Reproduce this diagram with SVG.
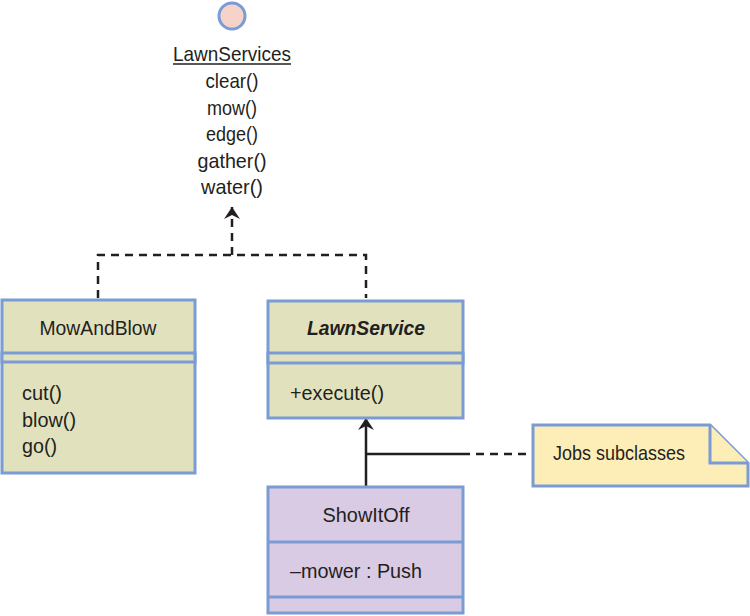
<svg xmlns="http://www.w3.org/2000/svg" width="750" height="616" viewBox="0 0 750 616">
<defs>
<style>
text{font-family:"Liberation Sans",Arial,sans-serif;font-size:21px;fill:#231f20}
.c{text-anchor:middle}
.box{stroke:#7b9bd4;stroke-width:3}
.cls{fill:#e1e2bd}
.pur{fill:#d9cbe3}
.note{fill:#fdedb7}
.ln{stroke:#231f20;stroke-width:2.5;fill:none}
.dash{stroke-dasharray:8,6}
</style>
<marker id="ah" viewBox="0 0 12 16" refX="12" refY="8" markerWidth="12" markerHeight="16" markerUnits="userSpaceOnUse" orient="auto">
<path d="M0,0 L12,8 L0,16 L4,8 Z" fill="#231f20"/>
</marker>
</defs>
<g id="connectors">
<path class="ln dash" d="M98,298 V255 H366 V298"/>
<path class="ln dash" d="M232,255 V207" marker-end="url(#ah)"/>
<path class="ln" d="M366,487 V418" marker-end="url(#ah)"/>
<path class="ln" d="M366,454 H470"/>
<path class="ln dash" d="M476,454 H533"/>
</g>
<g id="LawnServices">
<circle cx="232" cy="16" r="13" fill="#f6d3c9" stroke="#7b9bd4" stroke-width="3"/>
<text class="c" x="232" y="61" textLength="118" lengthAdjust="spacingAndGlyphs">LawnServices</text>
<line x1="173" y1="64" x2="291" y2="64" stroke="#231f20" stroke-width="1.5"/>
<text class="c" x="232" y="88" textLength="53" lengthAdjust="spacingAndGlyphs">clear()</text>
<text class="c" x="232" y="114.5" textLength="50" lengthAdjust="spacingAndGlyphs">mow()</text>
<text class="c" x="232" y="141" textLength="52" lengthAdjust="spacingAndGlyphs">edge()</text>
<text class="c" x="232" y="167.5" textLength="69" lengthAdjust="spacingAndGlyphs">gather()</text>
<text class="c" x="232" y="194" textLength="62" lengthAdjust="spacingAndGlyphs">water()</text>
</g>
<g id="MowAndBlow">
<rect class="box cls" x="2" y="300" width="193" height="173"/>
<rect class="box cls" x="2" y="353" width="193" height="9"/>
<text class="c" x="98" y="335" textLength="117" lengthAdjust="spacingAndGlyphs">MowAndBlow</text>
<text x="22" y="400" textLength="40" lengthAdjust="spacingAndGlyphs">cut()</text>
<text x="22" y="427" textLength="54" lengthAdjust="spacingAndGlyphs">blow()</text>
<text x="22" y="453" textLength="35" lengthAdjust="spacingAndGlyphs">go()</text>
</g>
<g id="LawnService">
<rect class="box cls" x="268" y="301" width="195" height="117"/>
<rect class="box cls" x="268" y="353" width="195" height="10"/>
<text class="c" x="366" y="335" font-weight="bold" font-style="italic" textLength="118" lengthAdjust="spacingAndGlyphs">LawnService</text>
<text x="290" y="400" textLength="94" lengthAdjust="spacingAndGlyphs">+execute()</text>
</g>
<g id="ShowItOff">
<rect class="box pur" x="268" y="487" width="195" height="126"/>
<line class="box" x1="268" y1="542" x2="463" y2="542"/>
<line class="box" x1="268" y1="597" x2="463" y2="597"/>
<text class="c" x="366" y="522" textLength="87" lengthAdjust="spacingAndGlyphs">ShowItOff</text>
<text x="290" y="578" textLength="132" lengthAdjust="spacingAndGlyphs">–mower : Push</text>
</g>
<g id="note">
<path class="box note" d="M533,425 H710 L748,463 V486 H533 Z"/>
<path class="box note" d="M710,425 V463 H748"/>
<text x="553" y="460" textLength="132" lengthAdjust="spacingAndGlyphs">Jobs subclasses</text>
</g>
</svg>
